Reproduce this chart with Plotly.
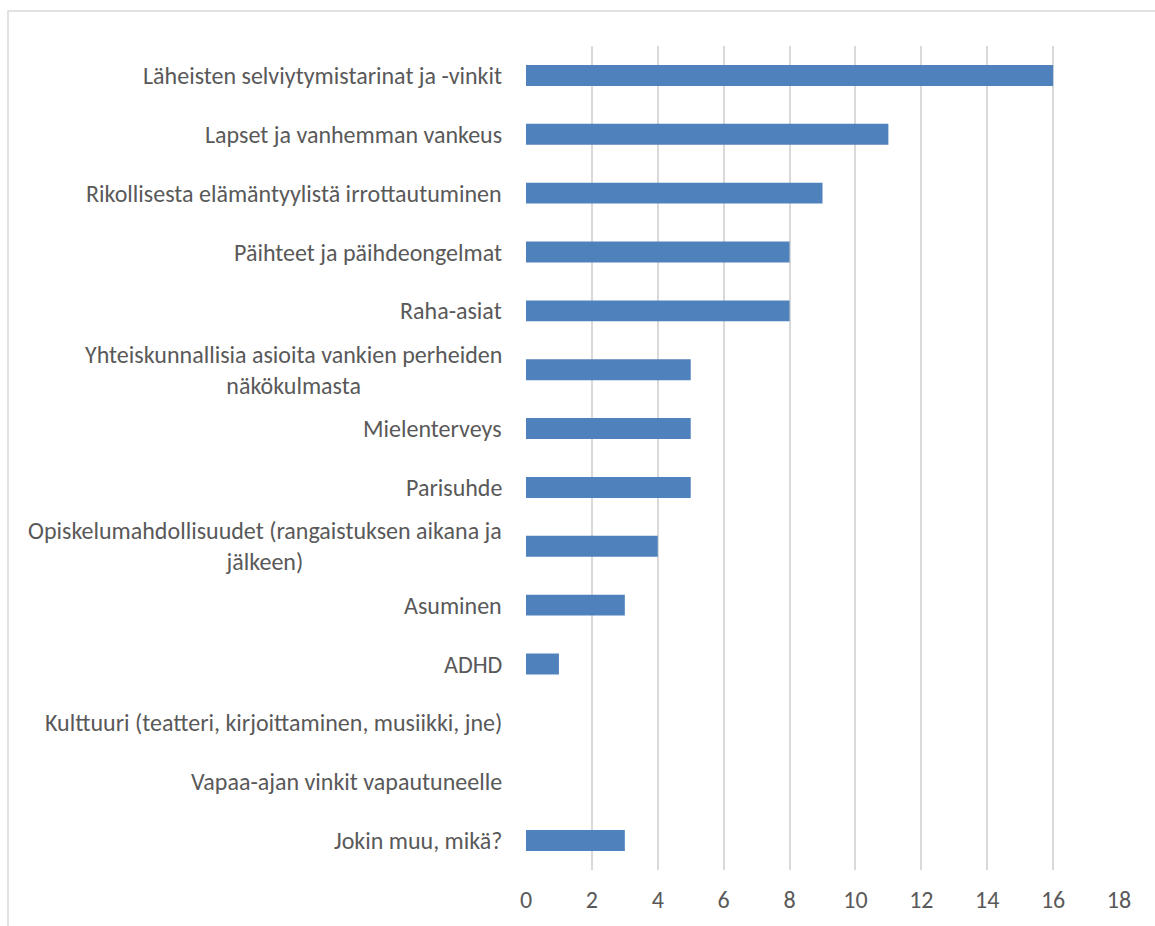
import plotly.graph_objects as go

categories = [
    "Läheisten selviytymistarinat ja -vinkit",
    "Lapset ja vanhemman vankeus",
    "Rikollisesta elämäntyylistä irrottautuminen",
    "Päihteet ja päihdeongelmat",
    "Raha-asiat",
    "Yhteiskunnallisia asioita vankien perheiden<br>näkökulmasta",
    "Mielenterveys",
    "Parisuhde",
    "Opiskelumahdollisuudet (rangaistuksen aikana ja<br>jälkeen)",
    "Asuminen",
    "ADHD",
    "Kulttuuri (teatteri, kirjoittaminen, musiikki, jne)",
    "Vapaa-ajan vinkit vapautuneelle",
    "Jokin muu, mikä?",
]
values = [16, 11, 9, 8, 8, 5, 5, 5, 4, 3, 1, 0, 0, 3]
x_ticks = [0, 2, 4, 6, 8, 10, 12, 14, 16, 18]

FONT = "Carlito, Lato, 'Open Sans', sans-serif"
TEXT_COLOR = "#595959"
FS = 24

fig = go.Figure(go.Bar(
    x=values,
    y=list(range(len(categories))),
    orientation="h",
    marker=dict(color="#4f81bd", line=dict(width=0)),
    hoverinfo="x",
))

annotations = []
for i, c in enumerate(categories):
    annotations.append(dict(
        x=0, xref="paper", xshift=-22,
        y=i, yref="y",
        text=c, showarrow=False,
        xanchor="right", yanchor="middle", align="center",
        font=dict(family=FONT, size=FS, color=TEXT_COLOR),
    ))

fig.update_layout(
    width=1155, height=926,
    margin=dict(l=526, r=36, t=46, b=56),
    paper_bgcolor="white", plot_bgcolor="white",
    bargap=0.645,
    showlegend=False,
    font=dict(family=FONT, size=FS, color=TEXT_COLOR),
    annotations=annotations,
    xaxis=dict(
        range=[0, 18], tickvals=x_ticks, ticktext=[str(t) for t in x_ticks],
        showgrid=True, gridcolor="#d9d9d9", gridwidth=1.5,
        zeroline=False, showline=False, ticks="",
        tickfont=dict(family=FONT, size=FS, color=TEXT_COLOR),
        ticklabelstandoff=13,
    ),
    yaxis=dict(
        range=[len(categories) - 0.5, -0.5],
        showticklabels=False, showgrid=False, zeroline=False, ticks="",
    ),
    shapes=[dict(
        type="rect", xref="paper", yref="paper",
        x0=(8 - 526) / 593, x1=1.2, y0=-0.2, y1=(870 - 11) / 824,
        line=dict(color="#d9d9d9", width=1.5), fillcolor="rgba(0,0,0,0)",
        layer="below",
    )],
)

fig.write_html("out.html")
